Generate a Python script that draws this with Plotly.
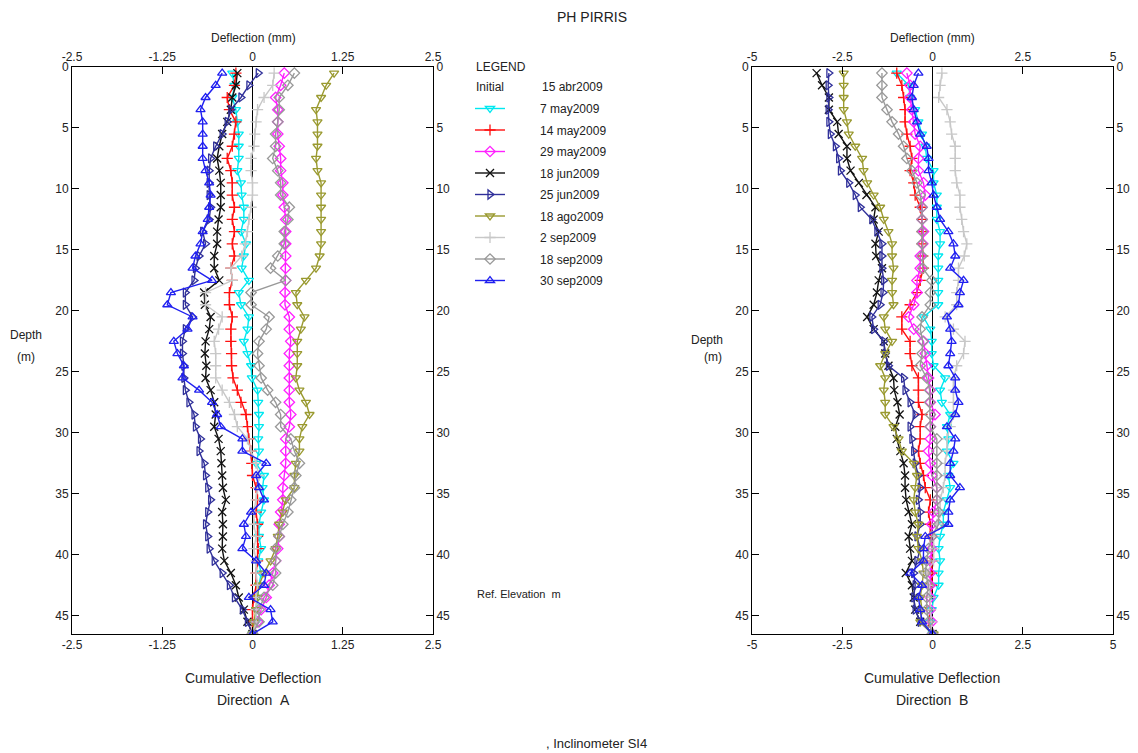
import plotly.graph_objects as go

W, H = 1138, 753


def px(x):
    return x / W


def py(y):
    return 1 - y / H


# ---------------- data ----------------
depth = [0.5, 1.5, 2.5, 3.5, 4.5, 5.5, 6.5, 7.5, 8.5, 9.5,
         10.5, 11.5, 12.5, 13.5, 14.5, 15.5, 16.5, 17.5, 18.5, 19.5,
         20.5, 21.5, 22.5, 23.5, 24.5, 25.5, 26.5, 27.5, 28.5, 29.5,
         30.5, 31.5, 32.5, 33.5, 34.5, 35.5, 36.5, 37.5, 38.5, 39.5,
         40.5, 41.5, 42.5, 43.5, 44.5, 45.5, 46.5]

dates = ["7 may2009", "14 may2009", "29 may2009", "18 jun2009", "25 jun2009",
         "18 ago2009", "2 sep2009", "18 sep2009", "30 sep2009"]
initial_date = "15 abr2009"

# Direction A (mm)
A_7may = [-0.28, -0.25, -0.28, -0.23, -0.21, -0.19, -0.19, -0.19, -0.21, -0.16,
          -0.15, -0.12, -0.12, -0.16, -0.09, -0.12, -0.15, -0.05, -0.19, -0.16,
          -0.05, -0.07, -0.12, -0.07, -0.02, -0.01, 0.07, 0.08, 0.09, 0.09,
          0.08, 0.09, 0.05, 0.16, 0.14, 0.16, 0.12, 0.09, 0.09, 0.12,
          0.08, 0.12, 0.09, 0.07, 0.05, 0.05, 0.0]
A_14may = [-0.23, -0.25, -0.35, -0.32, -0.23, -0.25, -0.28, -0.35, -0.30, -0.28,
           -0.28, -0.25, -0.28, -0.25, -0.28, -0.25, -0.30, -0.28, -0.32, -0.32,
           -0.28, -0.30, -0.30, -0.29, -0.29, -0.27, -0.21, -0.16, -0.09, -0.07,
           -0.05, -0.02, -0.01, 0.0, 0.05, 0.07, 0.05, 0.07, 0.07, 0.08,
           0.07, 0.05, 0.05, 0.02, 0.0, 0.0, 0.0]
A_29may = [0.44, 0.39, 0.32, 0.35, 0.35, 0.35, 0.37, 0.39, 0.39, 0.42,
           0.42, 0.44, 0.46, 0.46, 0.46, 0.46, 0.46, 0.46, 0.45, 0.45,
           0.51, 0.51, 0.53, 0.51, 0.51, 0.51, 0.51, 0.51, 0.53, 0.51,
           0.46, 0.46, 0.46, 0.44, 0.42, 0.42, 0.39, 0.37, 0.37, 0.35,
           0.32, 0.28, 0.23, 0.19, 0.12, 0.07, 0.0]
A_18jun = [-0.21, -0.23, -0.28, -0.30, -0.35, -0.42, -0.46, -0.49, -0.46, -0.44,
           -0.44, -0.44, -0.47, -0.49, -0.49, -0.53, -0.53, -0.46, -0.67, -0.66,
           -0.58, -0.60, -0.65, -0.66, -0.64, -0.65, -0.58, -0.53, -0.51, -0.53,
           -0.47, -0.44, -0.43, -0.42, -0.41, -0.37, -0.42, -0.41, -0.41, -0.42,
           -0.39, -0.30, -0.23, -0.19, -0.12, -0.07, 0.0]
A_25jun = [0.08, -0.05, -0.16, -0.30, -0.35, -0.42, -0.51, -0.58, -0.60, -0.60,
           -0.60, -0.58, -0.60, -0.69, -0.65, -0.74, -0.79, -0.81, -0.93, -0.93,
           -0.83, -0.93, -0.97, -0.97, -0.95, -0.95, -0.93, -0.88, -0.81, -0.79,
           -0.72, -0.74, -0.67, -0.65, -0.62, -0.58, -0.62, -0.65, -0.62, -0.60,
           -0.53, -0.42, -0.32, -0.25, -0.14, -0.07, 0.0]
A_18ago = [1.13, 1.02, 0.95, 0.88, 0.90, 0.90, 0.90, 0.88, 0.90, 0.95,
           0.95, 0.95, 0.95, 0.95, 0.95, 0.93, 0.88, 0.74, 0.60, 0.62,
           0.72, 0.67, 0.62, 0.62, 0.62, 0.60, 0.65, 0.74, 0.79, 0.69,
           0.65, 0.65, 0.60, 0.58, 0.58, 0.46, 0.42, 0.37, 0.35, 0.32,
           0.25, 0.16, 0.09, 0.07, 0.05, 0.02, 0.0]
A_2sep = [0.30, 0.28, 0.16, 0.07, 0.05, 0.03, 0.02, -0.02, -0.02, 0.0,
          0.0, -0.02, -0.05, -0.07, -0.10, -0.15, -0.30, -0.28, -0.65, -0.65,
          -0.42, -0.47, -0.53, -0.51, -0.51, -0.51, -0.42, -0.32, -0.25, -0.21,
          -0.07, -0.02, 0.05, 0.09, 0.07, 0.05, 0.02, 0.02, 0.05, 0.02,
          0.05, 0.05, 0.07, 0.05, 0.05, 0.05, 0.0]
A_18sep = [0.58, 0.49, 0.37, 0.37, 0.35, 0.32, 0.32, 0.28, 0.35, 0.39,
           0.39, 0.51, 0.49, 0.44, 0.44, 0.35, 0.25, 0.46, -0.02, -0.02,
           0.23, 0.19, 0.09, 0.07, 0.09, 0.12, 0.21, 0.32, 0.39, 0.39,
           0.53, 0.58, 0.65, 0.60, 0.58, 0.53, 0.49, 0.42, 0.37, 0.32,
           0.32, 0.32, 0.28, 0.16, 0.09, 0.09, 0.0]
A_30sep = [-0.42, -0.51, -0.65, -0.72, -0.69, -0.69, -0.69, -0.69, -0.65, -0.60,
           -0.58, -0.60, -0.62, -0.69, -0.72, -0.79, -0.83, -0.56, -1.13, -1.18,
           -0.83, -0.90, -1.09, -1.04, -0.95, -0.97, -0.74, -0.56, -0.49, -0.44,
           -0.14, -0.14, 0.19, 0.05, 0.09, 0.16, -0.02, -0.12, -0.09, -0.14,
           0.05, 0.19, 0.16, -0.05, 0.25, 0.28, 0.0]

# Direction B (mm)
B_7may = [-0.99, -0.66, -0.62, -0.48, -0.39, -0.29, -0.20, -0.16, 0.03, 0.03,
          0.12, 0.12, 0.12, 0.21, 0.21, 0.16, 0.16, 0.16, 0.16, 0.16,
          -0.25, -0.06, -0.02, -0.02, 0.03, 0.35, 0.21, 0.26, 0.49, 0.40,
          0.44, 0.40, 0.58, 0.44, 0.49, 0.40, 0.30, 0.30, 0.21, 0.17,
          0.21, 0.17, 0.17, 0.03, -0.02, -0.06, 0.0]
B_14may = [-0.99, -0.85, -0.80, -0.76, -0.76, -0.71, -0.62, -0.57, -0.62, -0.52,
           -0.48, -0.34, -0.29, -0.29, -0.29, -0.27, -0.25, -0.34, -0.43, -0.62,
           -0.85, -0.85, -0.62, -0.62, -0.57, -0.39, -0.39, -0.39, -0.29, -0.34,
           -0.34, -0.39, -0.34, -0.25, -0.20, -0.06, -0.11, -0.06, -0.06, -0.02,
           -0.02, -0.02, -0.02, -0.06, -0.06, -0.11, 0.0]
B_29may = [-0.71, -0.62, -0.62, -0.57, -0.52, -0.48, -0.34, -0.39, -0.39, -0.25,
           -0.20, -0.29, -0.29, -0.25, -0.27, -0.34, -0.34, -0.43, -0.43, -0.52,
           -0.66, -0.52, -0.25, -0.20, -0.16, -0.11, -0.06, -0.06, 0.07, -0.06,
           -0.06, -0.11, -0.06, -0.02, 0.12, 0.12, 0.03, -0.02, -0.02, -0.02,
           -0.06, -0.06, -0.06, -0.06, -0.06, -0.02, 0.0]
B_18jun = [-3.21, -3.06, -2.87, -2.87, -2.64, -2.60, -2.37, -2.37, -2.27, -2.04,
           -1.83, -1.58, -1.63, -1.49, -1.58, -1.56, -1.40, -1.49, -1.54, -1.63,
           -1.81, -1.63, -1.35, -1.31, -1.22, -1.08, -1.06, -0.97, -0.91, -1.03,
           -0.99, -0.89, -0.80, -0.76, -0.76, -0.73, -0.66, -0.57, -0.66, -0.62,
           -0.57, -0.74, -0.57, -0.52, -0.48, -0.34, 0.0]
B_25jun = [-2.87, -2.89, -2.87, -2.89, -2.87, -2.83, -2.69, -2.60, -2.55, -2.32,
           -2.14, -2.00, -1.68, -1.54, -1.40, -1.40, -1.40, -1.35, -1.37, -1.45,
           -1.68, -1.63, -1.35, -1.31, -1.22, -0.80, -0.76, -0.62, -0.48, -0.62,
           -0.57, -0.52, -0.48, -0.39, -0.34, -0.39, -0.34, -0.34, -0.43, -0.34,
           -0.43, -0.52, -0.48, -0.52, -0.48, -0.34, 0.0]
B_18ago = [-2.46, -2.46, -2.46, -2.46, -2.37, -2.32, -2.14, -1.95, -1.91, -1.81,
           -1.63, -1.45, -1.35, -1.22, -1.12, -1.12, -1.08, -1.12, -1.12, -1.08,
           -1.35, -1.31, -1.12, -1.31, -1.45, -1.31, -1.35, -1.31, -1.31, -1.08,
           -0.94, -0.85, -0.52, -0.43, -0.48, -0.52, -0.48, -0.39, -0.43, -0.39,
           -0.29, -0.25, -0.29, -0.34, -0.29, -0.34, 0.03]
B_2sep = [0.26, 0.21, 0.17, 0.40, 0.49, 0.53, 0.63, 0.63, 0.63, 0.67,
          0.76, 0.76, 0.81, 0.86, 0.95, 0.88, 0.72, 0.72, 0.67, 0.67,
          0.35, 0.58, 0.90, 0.86, 0.67, 0.58, 0.58, 0.58, 0.58, 0.49,
          0.40, 0.40, 0.35, 0.35, 0.30, 0.21, 0.21, 0.12, 0.03, 0.03,
          0.03, -0.16, -0.11, -0.06, -0.06, -0.02, 0.0]
B_18sep = [-1.40, -1.40, -1.40, -1.26, -1.12, -0.94, -0.80, -0.71, -0.57, -0.43,
           -0.34, -0.29, -0.29, -0.29, -0.29, -0.29, -0.27, -0.02, -0.06, -0.06,
           -0.29, -0.34, -0.27, -0.29, -0.34, -0.16, -0.08, -0.08, -0.06, -0.06,
           0.12, 0.12, 0.12, 0.12, 0.12, 0.12, 0.17, 0.17, -0.02, -0.11,
           -0.16, -0.20, -0.11, -0.16, -0.16, -0.11, 0.0]
B_30sep = [-0.39, -0.52, -0.57, -0.52, -0.43, -0.34, -0.16, -0.11, -0.11, -0.02,
           0.03, 0.12, 0.21, 0.44, 0.58, 0.63, 0.49, 0.86, 0.76, 0.72,
           0.40, 0.49, 0.53, 0.49, 0.44, 0.63, 0.63, 0.72, 0.63, 0.40,
           0.63, 0.58, 0.49, 0.49, 0.76, 0.49, 0.44, 0.44, -0.20, -0.25,
           -0.25, -0.62, -0.29, -0.39, -0.34, -0.29, 0.0]

series_A = [A_7may, A_14may, A_29may, A_18jun, A_25jun, A_18ago, A_2sep, A_18sep, A_30sep]
series_B = [B_7may, B_14may, B_29may, B_18jun, B_25jun, B_18ago, B_2sep, B_18sep, B_30sep]

colors = ["#00E8F0", "#FF1010", "#FF20FF", "#111111", "#30309A",
          "#9A9A30", "#C8C8C8", "#999999", "#2020F0"]
symbols = ["triangle-down-open", "cross-thin", "diamond-open", "x-thin", "triangle-right-open",
           "triangle-down-open", "cross-thin", "diamond-open", "triangle-up-open"]

A_ticks = [-2.5, -1.25, 0, 1.25, 2.5]
A_ticktext = ["-2.5", "-1.25", "0", "1.25", "2.5"]
B_ticks = [-5, -2.5, 0, 2.5, 5]
B_ticktext = ["-5", "-2.5", "0", "2.5", "5"]
depth_ticks = [0, 5, 10, 15, 20, 25, 30, 35, 40, 45]

FONT = "Liberation Sans, Arial, sans-serif"
NB = "\u00a0"

fig = go.Figure()

for i, name in enumerate(dates):
    mk = dict(symbol=symbols[i], size=8, color=colors[i],
              line=dict(color=colors[i], width=1.3))
    fig.add_trace(go.Scatter(x=series_A[i], y=depth, mode="lines+markers",
                             name=NB * 9 + name, line=dict(color=colors[i], width=1.4),
                             marker=mk, xaxis="x", yaxis="y", showlegend=True,
                             legendgroup=str(i)))
    fig.add_trace(go.Scatter(x=series_B[i], y=depth, mode="lines+markers",
                             name=name, line=dict(color=colors[i], width=1.4),
                             marker=mk, xaxis="x3", yaxis="y3", showlegend=False))

# helper empty traces so the mirrored axes are drawn
for xa, ya in [("x2", "y"), ("x", "y2"), ("x4", "y3"), ("x3", "y4")]:
    fig.add_trace(go.Scatter(x=[], y=[], xaxis=xa, yaxis=ya, showlegend=False,
                             hoverinfo="skip"))

axis_common = dict(showline=True, linecolor="black", linewidth=1, ticks="inside",
                   ticklen=7, tickcolor="black", showgrid=False, mirror=False,
                   automargin=False,
                   tickfont=dict(family=FONT, size=12, color="#222"))

dom_A = [px(72), px(433)]
dom_B = [px(752), px(1113)]
dom_y = [py(634), py(67)]

fig.update_layout(
    width=W, height=H, margin=dict(l=0, r=0, t=0, b=0, autoexpand=False),
    paper_bgcolor="white", plot_bgcolor="white",
    font=dict(family=FONT, size=12, color="#222"),
    xaxis=dict(domain=dom_A, range=[-2.5, 2.5], tickvals=A_ticks, ticktext=A_ticktext,
               anchor="y", side="bottom", zeroline=True, zerolinecolor="black",
               zerolinewidth=1, **axis_common),
    xaxis2=dict(domain=dom_A, range=[-2.5, 2.5], tickvals=A_ticks, ticktext=A_ticktext,
                anchor="y", side="top", overlaying="x", zeroline=False, **axis_common),
    yaxis=dict(domain=dom_y, range=[46.5, 0], tickvals=depth_ticks, anchor="x",
               side="left", zeroline=False, **axis_common),
    yaxis2=dict(domain=dom_y, range=[46.5, 0], tickvals=depth_ticks, anchor="x",
                side="right", overlaying="y", zeroline=False, **axis_common),
    xaxis3=dict(domain=dom_B, range=[-5, 5], tickvals=B_ticks, ticktext=B_ticktext,
                anchor="y3", side="bottom", zeroline=True, zerolinecolor="black",
                zerolinewidth=1, **axis_common),
    xaxis4=dict(domain=dom_B, range=[-5, 5], tickvals=B_ticks, ticktext=B_ticktext,
                anchor="y3", side="top", overlaying="x3", zeroline=False, **axis_common),
    yaxis3=dict(domain=dom_y, range=[46.5, 0], tickvals=depth_ticks, anchor="x3",
                side="left", zeroline=False, **axis_common),
    yaxis4=dict(domain=dom_y, range=[46.5, 0], tickvals=depth_ticks, anchor="x3",
                side="right", overlaying="y3", zeroline=False, **axis_common),
    legend=dict(x=px(470), y=py(94), xanchor="left", yanchor="top",
                bgcolor="rgba(0,0,0,0)", font=dict(family=FONT, size=12, color="#222"),
                tracegroupgap=2.5, itemwidth=30),
    showlegend=True,
)


def ann(text, x, y, size=12, xanchor="center"):
    fig.add_annotation(text=text, x=px(x), y=py(y), xref="paper", yref="paper",
                       showarrow=False, xanchor=xanchor, yanchor="middle",
                       font=dict(family=FONT, size=size, color="#222"))


ann("PH PIRRIS", 592, 17, 14)
ann("Deflection (mm)", 253, 38, 12)
ann("Deflection (mm)", 932, 38, 12)
ann("Depth", 26, 335, 12)
ann("(m)", 26, 357, 12)
ann("Depth", 707, 340, 12)
ann("(m)", 713, 357, 12)
ann("Cumulative Deflection", 253, 678, 14)
ann("Direction" + NB + NB + "A", 253, 700, 14)
ann("Cumulative Deflection", 932, 678, 14)
ann("Direction" + NB + NB + "B", 932, 700, 14)
ann(", Inclinometer SI4", 596, 743, 13)
ann("LEGEND", 474, 67, 12, "left")
ann("Initial", 474, 87, 12, "left")
ann(initial_date, 540, 87, 12, "left")
ann("Ref. Elevation" + NB + NB + "m", 475, 594, 11, "left")

fig.write_html("out.html",
               config={"displayModeBar": False},
               post_script="document.body.style.margin='0px';"
                           "document.body.style.overflow='hidden';")
